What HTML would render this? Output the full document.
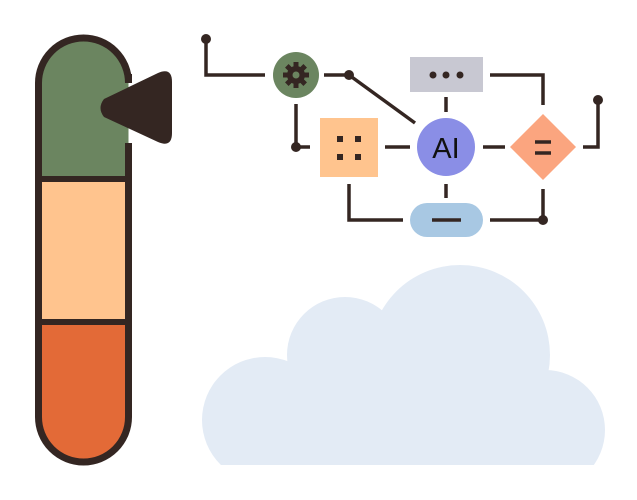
<!DOCTYPE html>
<html><head><style>html,body{margin:0;padding:0;background:#fff}svg{display:block}</style></head>
<body>
<svg width="637" height="500" viewBox="0 0 637 500" xmlns="http://www.w3.org/2000/svg">
<defs><clipPath id="cc"><rect x="0" y="0" width="637" height="465"/></clipPath></defs>
<g fill="#e3ebf5" clip-path="url(#cc)">
<circle cx="265" cy="420" r="63"/>
<circle cx="345" cy="355" r="58"/>
<circle cx="460" cy="355" r="90"/>
<circle cx="545" cy="430" r="60"/>
<rect x="290" y="380" width="255" height="100"/>
</g>
<!-- tube -->
<path d="M38.5,179 V83 A45,45 0 0 1 128.5,83 V179 Z" fill="#6b8560"/>
<rect x="38.5" y="179" width="90" height="143" fill="#ffc48e"/>
<path d="M38.5,322 V417 A45,45 0 0 0 128.5,417 V322 Z" fill="#e36a37"/>
<path d="M128.5,74 V83 A45,45 0 0 0 38.5,83 V417 A45,45 0 0 0 128.5,417 V143" fill="none" stroke="#342622" stroke-width="7"/>
<line x1="38" y1="179" x2="129" y2="179" stroke="#342622" stroke-width="6"/>
<line x1="38" y1="322" x2="129" y2="322" stroke="#342622" stroke-width="6"/>
<path d="M104,99 L158,73 Q172,67 172,82 V133 Q172,148 158,142 L104,117 Q97,108 104,99 Z" fill="#342622"/>
<!-- connectors -->
<g stroke="#342622" stroke-width="3.5" fill="none">
<polyline points="206,39 206,75 265,75"/>
<line x1="324" y1="75" x2="349" y2="75"/>
<line x1="349" y1="75" x2="415" y2="123"/>
<polyline points="296,104 296,147 310,147"/>
<line x1="385" y1="147" x2="410" y2="147"/>
<line x1="483" y1="147" x2="505" y2="147"/>
<polyline points="583,147 598,147 598,100"/>
<line x1="446" y1="97" x2="446" y2="112"/>
<polyline points="490,75 543,75 543,105"/>
<line x1="446" y1="184" x2="446" y2="198"/>
<polyline points="349,184 349,220 403,220"/>
<polyline points="490,220 543,220 543,189"/>
</g>
<g fill="#342622">
<circle cx="206" cy="39" r="5"/><circle cx="349" cy="75" r="5"/><circle cx="296" cy="147" r="5"/>
<circle cx="598" cy="100" r="5"/><circle cx="543" cy="220" r="5"/>
</g>
<!-- nodes -->
<circle cx="296" cy="75" r="23" fill="#6b8560"/>
<g fill="#342622"><circle cx="296" cy="75" r="9"/>
<g stroke="#342622" stroke-width="5">
<line x1="296" y1="62" x2="296" y2="88"/><line x1="283" y1="75" x2="309" y2="75"/>
<line x1="286.8" y1="65.8" x2="305.2" y2="84.2"/><line x1="305.2" y1="65.8" x2="286.8" y2="84.2"/></g></g>
<circle cx="296" cy="75" r="3.5" fill="#6b8560"/>
<rect x="320" y="118" width="58" height="59" fill="#ffc48e"/>
<g fill="#342622"><rect x="337" y="136" width="6" height="6"/><rect x="355" y="136" width="6" height="6"/><rect x="337" y="154" width="6" height="6"/><rect x="355" y="154" width="6" height="6"/></g>
<rect x="410" y="57" width="73" height="35" fill="#c8c8d2"/>
<g fill="#342622"><circle cx="433" cy="75" r="3.5"/><circle cx="446" cy="75" r="3.5"/><circle cx="460" cy="75" r="3.5"/></g>
<circle cx="446" cy="147" r="29" fill="#8a8ee6"/>
<text x="446" y="158" text-anchor="middle" font-family="Liberation Sans, sans-serif" font-size="29" fill="#111">AI</text>
<polygon points="543,114 576,147 543,180 510,147" fill="#fba57f"/>
<g stroke="#342622" stroke-width="3.5"><line x1="535" y1="142" x2="551" y2="142"/><line x1="535" y1="153" x2="551" y2="153"/></g>
<rect x="410" y="203" width="73" height="34" rx="17" fill="#a8c8e3"/>
<line x1="432" y1="220" x2="461" y2="220" stroke="#342622" stroke-width="3.5"/>
</svg>
</body></html>
